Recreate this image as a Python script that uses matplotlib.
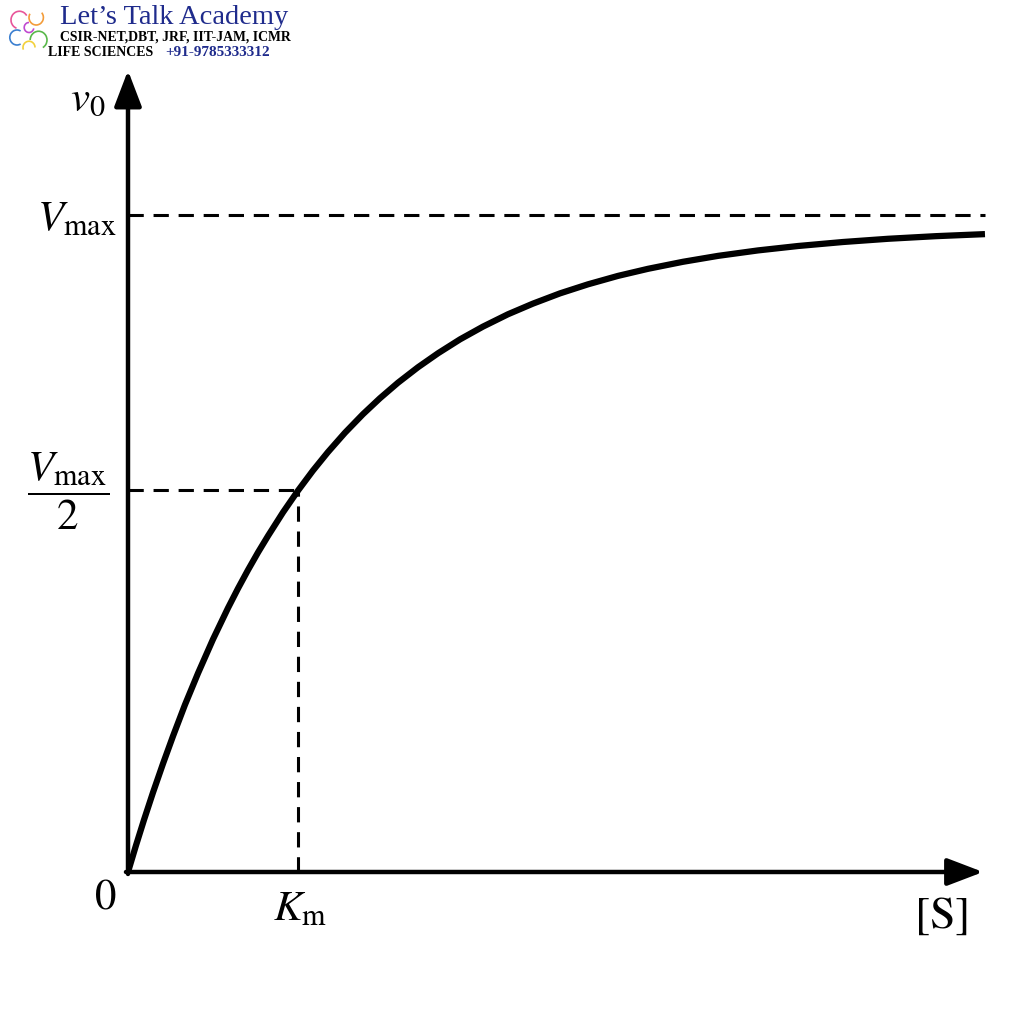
import matplotlib
matplotlib.use("Agg")
import matplotlib.pyplot as plt
from matplotlib.patches import Arc

plt.rcParams["mathtext.fontset"] = "stix"
plt.rcParams["font.family"] = ["Liberation Serif", "DejaVu Serif"]

# curve (Km = 1, Vmax = 1)
s_vals = [0.0, 0.047, 0.094, 0.147, 0.206, 0.265, 0.335, 0.412, 0.5, 0.588,
          0.647, 0.706, 0.765, 0.824, 0.912, 1.0, 1.088, 1.176, 1.276, 1.382,
          1.482, 1.588, 1.706, 1.824, 1.953, 2.088, 2.235, 2.382, 2.541, 2.706,
          2.882, 3.059, 3.265, 3.471, 3.706, 3.941, 4.206, 4.471, 4.753, 5.041]
v_vals = [0.0, 0.0405, 0.0793, 0.121, 0.165, 0.207, 0.2545, 0.3026, 0.3542, 0.4017,
          0.4315, 0.4597, 0.4865, 0.5117, 0.5475, 0.5805, 0.611, 0.6391, 0.6685, 0.6968,
          0.7211, 0.7447, 0.7683, 0.7896, 0.8107, 0.8301, 0.8489, 0.8651, 0.8807, 0.8945,
          0.9073, 0.9181, 0.9288, 0.9378, 0.9461, 0.9528, 0.9589, 0.9638, 0.9678, 0.9709]
vmax = 1.0
km = 1.0
v_half = 0.581
s_end = 5.041

fig = plt.figure(figsize=(10.24, 10.24), dpi=100)
ax = fig.add_axes([128 / 1024, 152 / 1024, 872 / 1024, 812 / 1024])
ax.set_xlim(0, 872 / 170)
ax.set_ylim(0, 812 / 657)
ax.axis("off")

# axes with arrow heads
arrow = dict(arrowstyle="-|>,head_length=1.1,head_width=0.42", lw=3.2, color="black",
             mutation_scale=20, shrinkA=0, shrinkB=0)
ax.annotate("", xy=(5.03, 0), xytext=(-0.012, 0), arrowprops=arrow)
ax.annotate("", xy=(0, 1.22), xytext=(0, -0.003), arrowprops=arrow)

# dashed guides
dash = dict(color="black", lw=2.2, dashes=(5, 3.2))
ax.plot([0, s_end], [vmax, vmax], **dash)
ax.plot([0, km], [v_half, v_half], **dash)
ax.plot([km, km], [0, v_half], **dash)

ax.plot(s_vals, v_vals, color="black", lw=4.5, solid_capstyle="butt",
        solid_joinstyle="round", zorder=3)

# labels
fs = 31
fig.text(88 / 1024, 1 - 100 / 1024, r"$v_0$", fontsize=fs, ha="center", va="center")
fig.text(116 / 1024, 1 - 220 / 1024, r"$V_{\mathrm{max}}$", fontsize=fs, ha="right", va="center")
fig.text(68 / 1024, 1 - 491 / 1024, r"$\dfrac{V_{\mathrm{max}}}{2}$", fontsize=fs, ha="center", va="center")
fig.text(105 / 1024, 1 - 898 / 1024, r"$0$", fontsize=fs, ha="center", va="center")
fig.text(300 / 1024, 1 - 910 / 1024, r"$K_{\mathrm{m}}$", fontsize=fs, ha="center", va="center")
fig.text(941 / 1024, 1 - 917 / 1024, r"$[\mathrm{S}]$", fontsize=33, ha="center", va="center")

# watermark logo
navy = "#1f2b8c"
fig.text(60 / 1024, 1 - 17 / 1024, "Let\u2019s Talk Academy", fontsize=20.5, color=navy,
         ha="left", va="center")
fig.text(60 / 1024, 1 - 37 / 1024, "CSIR-NET,DBT, JRF, IIT-JAM, ICMR", fontsize=9.9,
         fontweight="bold", color="black", ha="left", va="center")
fig.text(48 / 1024, 1 - 52 / 1024, "LIFE SCIENCES", fontsize=10,
         fontweight="bold", color="black", ha="left", va="center")
fig.text(165 / 1024, 1 - 52 / 1024, "+91-9785333312", fontsize=11,
         fontweight="bold", color=navy, ha="left", va="center")

# small colourful molecule icon
icon = fig.add_axes([5 / 1024, 1 - 55 / 1024, 48 / 1024, 50 / 1024])
icon.set_xlim(0, 1)
icon.set_ylim(0, 1)
icon.axis("off")
icon_colors = ["#e8559a", "#f39c3a", "#3b7fd0", "#59b84a", "#f2d03b", "#c04ad0"]
icon_arcs = [(0.3, 0.7, 0.35, 30, 250), (0.65, 0.75, 0.3, 150, 400),
             (0.25, 0.35, 0.3, 60, 300), (0.7, 0.3, 0.35, -60, 180),
             (0.5, 0.15, 0.25, 0, 200), (0.5, 0.55, 0.2, 90, 350)]
for (cx, cy, d, t1, t2), c in zip(icon_arcs, icon_colors):
    icon.add_patch(Arc((cx, cy), d, d, theta1=t1, theta2=t2, color=c, lw=1.2))

fig.savefig("out.png", dpi=100, facecolor="white")
